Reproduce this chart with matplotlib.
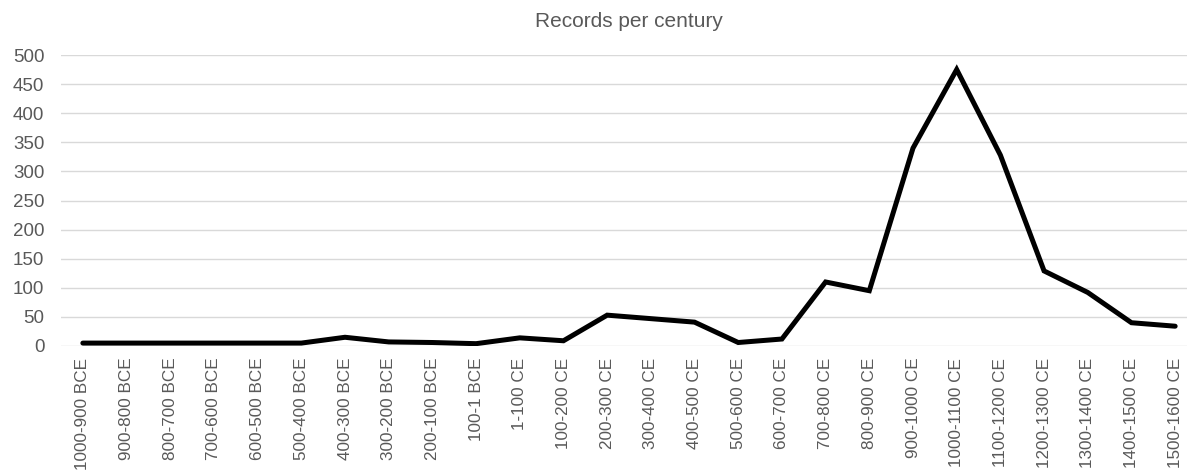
import matplotlib
matplotlib.use("Agg")
import matplotlib.pyplot as plt

centuries = [
    "1000-900 BCE", "900-800 BCE", "800-700 BCE", "700-600 BCE", "600-500 BCE",
    "500-400 BCE", "400-300 BCE", "300-200 BCE", "200-100 BCE", "100-1 BCE",
    "1-100 CE", "100-200 CE", "200-300 CE", "300-400 CE", "400-500 CE",
    "500-600 CE", "600-700 CE", "700-800 CE", "800-900 CE", "900-1000 CE",
    "1000-1100 CE", "1100-1200 CE", "1200-1300 CE", "1300-1400 CE",
    "1400-1500 CE", "1500-1600 CE",
]
records = [5, 5, 5, 5, 5, 5, 15, 7, 6, 4, 14, 9, 53, 47, 41, 6, 12,
           110, 95, 340, 475, 328, 129, 92, 40, 34]
yticks = [0, 50, 100, 150, 200, 250, 300, 350, 400, 450, 500]

plt.rcParams["font.family"] = ["Liberation Sans", "DejaVu Sans"]
grey = "#595959"

W, H = 1187, 471
fig = plt.figure(figsize=(W / 100, H / 100), dpi=100)
# plot area in pixels: left 61, right 1197, top 55 (=500), bottom 346 (=0)
ax = fig.add_axes([61 / W, (H - 346) / H, (1197 - 61) / W, (346 - 55) / H])

x = list(range(len(centuries)))
ax.plot(x, records, color="black", lw=3.6, solid_capstyle="round",
        solid_joinstyle="miter", zorder=3)

ax.set_xlim(-0.5, len(centuries) - 0.5)
ax.set_ylim(0, 500)
ax.set_yticks(yticks)
ax.set_xticks(x)
ax.set_xticklabels(centuries, rotation=90, va="top", ha="center")
ax.tick_params(axis="both", length=0, colors=grey)
ax.tick_params(axis="y", pad=12, labelsize=13.5)
ax.tick_params(axis="x", pad=8.5, labelsize=12.3)

ax.grid(axis="y", color="#d9d9d9", lw=1.0)
ax.set_axisbelow(True)
for s in ax.spines.values():
    s.set_visible(False)

# title centred over the plot area
fig.text(629 / W, 1 - 27 / H, "Records per century", ha="center",
         va="baseline", color=grey, fontsize=15)

fig.savefig("out.png", dpi=100)
